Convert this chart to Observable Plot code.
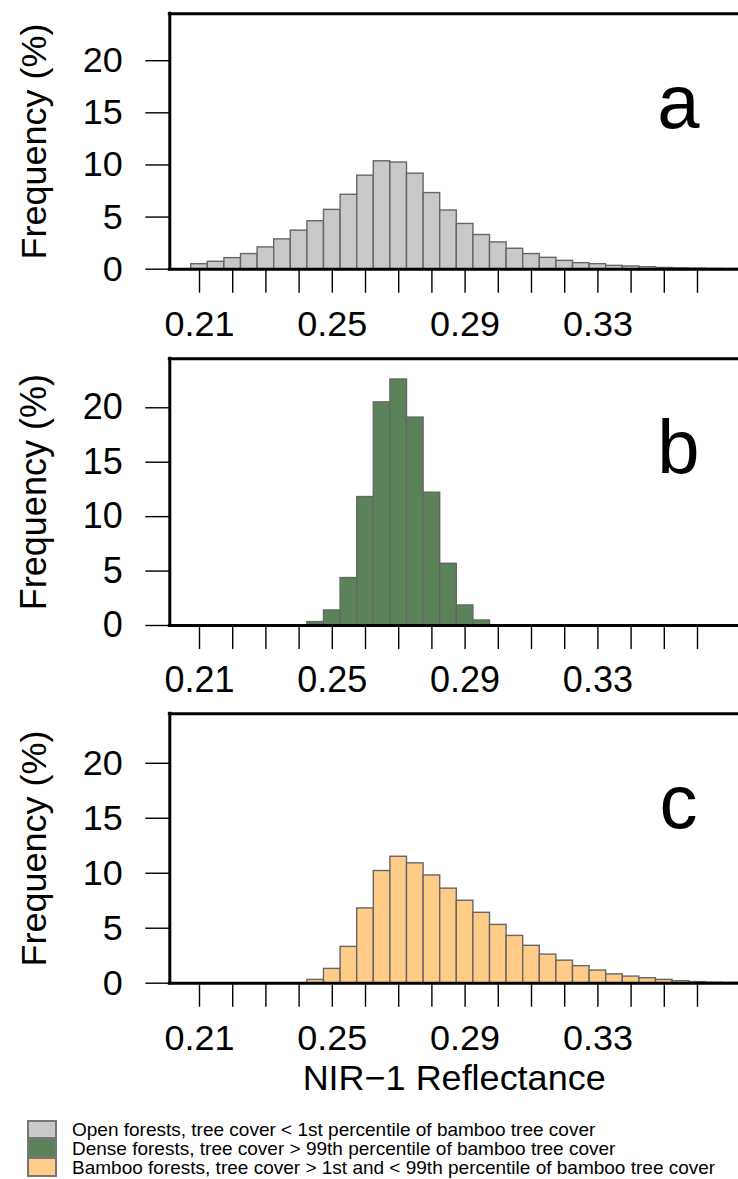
<!DOCTYPE html>
<html>
<head>
<meta charset="utf-8">
<script src="https://cdn.jsdelivr.net/npm/d3@7"></script>
<script src="https://cdn.jsdelivr.net/npm/@observablehq/plot@0.6"></script>
<style>
  html, body { margin: 0; padding: 0; background: #fff; }
  #wrap { position: relative; width: 738px; height: 1179px; overflow: hidden; font-family: "Liberation Sans", Arial, sans-serif; }
  .panel { position: absolute; left: 0; }
  #legend { position: absolute; left: 27px; top: 1120px; font-size: 19px; color: #000; }
  .row { display: flex; align-items: center; height: 19px; }
  .box { width: 30px; height: 19px; box-sizing: border-box; border: 2px solid #777; margin-right: 15px; }
  .lab { line-height: 19px; white-space: nowrap; }
</style>
</head>
<body>
<div id="wrap"></div>
<script>
// ---- data (bin centres, width 0.005) ----
const binCenters = [0.210,0.215,0.220,0.225,0.230,0.235,0.240,0.245,0.250,0.255,0.260,0.265,0.270,0.275,0.280,0.285,0.290,0.295,0.300,0.305,0.310,0.315,0.320,0.325,0.330,0.335,0.340,0.345,0.350,0.355,0.360,0.365,0.370];
const openFreq   = [0.48,0.71,1.06,1.45,2.09,2.86,3.70,4.60,5.69,7.14,8.97,10.35,10.23,9.16,7.30,5.63,4.34,3.28,2.57,1.96,1.45,1.09,0.80,0.58,0.48,0.32,0.26,0.19,0.12,0.08,0.05,0.03,0.02];
const denseFreq  = [0,0,0,0,0,0,0,0.31,1.38,4.36,11.8,20.5,22.6,19.1,12.2,5.67,1.84,0.46,0,0,0,0,0,0,0,0,0,0,0,0,0,0,0];
const bambooFreq = [0,0,0,0,0,0,0,0.30,1.30,3.30,6.80,10.2,11.5,10.9,9.80,8.60,7.50,6.40,5.30,4.30,3.40,2.60,2.05,1.55,1.15,0.80,0.60,0.45,0.30,0.18,0.10,0.05,0.03];
const binWidth = 0.005;

const xTicks      = [0.21,0.22,0.23,0.24,0.25,0.26,0.27,0.28,0.29,0.30,0.31,0.32,0.33,0.34,0.35,0.36];
const xTickLabels = ["0.21","","","","0.25","","","","0.29","","","","0.33","","",""];
const yTicks      = [0,5,10,15,20];
const yTickLabels = ["0","5","10","15","20"];

const panelLetters = ["a","b","c"];
const seriesNames = [
  "Open forests, tree cover < 1st percentile of bamboo tree cover",
  "Dense forests, tree cover > 99th percentile of bamboo tree cover",
  "Bamboo forests, tree cover > 1st and < 99th percentile of bamboo tree cover"
];
const seriesColors = ["#c9c9c9", "#5b835a", "#ffcc88"];
const seriesValues = [openFreq, denseFreq, bambooFreq];
const yLabel = "Frequency (%)";
const xLabel = "NIR\u22121 Reflectance";

// ---- layout ----
const W = 738;
const xDomain = [0.201054, 0.372349];
const yDomain = [0, 24.5];
const panelTop = [0, 345, 700];
const plotH = [255.4, 266.7, 269.4];
const mTop = 13.3;
const mLeft = 169.3;
const font = "'Liberation Sans', Arial, Helvetica, sans-serif";

const wrap = document.getElementById("wrap");

seriesValues.forEach((vals, i) => {
  const bins = binCenters.map((c, k) => ({x1: c - binWidth/2, x2: c + binWidth/2, y: vals[k]})).filter(d => d.y > 0);
  const last = i === 2;
  const mBottom = last ? 150 : 72;
  const marks = [
    Plot.rectY(bins, {x1: "x1", x2: "x2", y: "y", fill: seriesColors[i], stroke: "#666", strokeWidth: 1.4}),
    Plot.axisY({ticks: yTicks, tickFormat: d => yTickLabels[yTicks.indexOf(d)], tickSize: 24, tickPadding: 23, strokeWidth: 1.4, label: null, fontSize: 36}),
    Plot.axisX({ticks: xTicks, tickFormat: d => xTickLabels[xTicks.indexOf(d)], tickSize: 24, tickPadding: 17, strokeWidth: 1.4, label: null, fontSize: 36}),
    Plot.ruleY([yDomain[0]], {strokeWidth: 3, strokeLinecap: "square"}),
    Plot.ruleY([yDomain[1]], {strokeWidth: 3, strokeLinecap: "square"}),
    Plot.ruleX([xDomain[0]], {strokeWidth: 3, strokeLinecap: "square"}),
    Plot.text([panelLetters[i]], {text: d => d, frameAnchor: "top-right", dx: -60, dy: 114, lineAnchor: "bottom", textAnchor: "middle", fontSize: 76}),
    Plot.text([yLabel], {text: d => d, frameAnchor: "left", dx: -135, rotate: -90, textAnchor: "middle", fontSize: 36})
  ];
  if (last) {
    marks.push(Plot.text([xLabel], {text: d => d, frameAnchor: "bottom", dy: 107, textAnchor: "middle", fontSize: 36}));
  }
  const chart = Plot.plot({
    width: W,
    height: mTop + plotH[i] + mBottom,
    marginTop: mTop,
    marginLeft: mLeft,
    marginRight: 0,
    marginBottom: mBottom,
    x: {domain: xDomain, type: "linear"},
    y: {domain: yDomain, type: "linear"},
    style: {fontFamily: font, fontSize: "36px", color: "#000", background: "transparent", overflow: "visible"},
    marks
  });
  chart.classList.add("panel");
  chart.style.top = panelTop[i] + "px";
  wrap.appendChild(chart);
});

// legend
const legend = document.createElement("div");
legend.id = "legend";
seriesNames.forEach((name, i) => {
  const row = document.createElement("div");
  row.className = "row";
  const box = document.createElement("div");
  box.className = "box";
  box.style.background = seriesColors[i];
  if (i > 0) box.style.borderTopWidth = "1px";
  const lab = document.createElement("span");
  lab.className = "lab";
  lab.textContent = name;
  row.appendChild(box);
  row.appendChild(lab);
  legend.appendChild(row);
});
wrap.appendChild(legend);
</script>
</body>
</html>
